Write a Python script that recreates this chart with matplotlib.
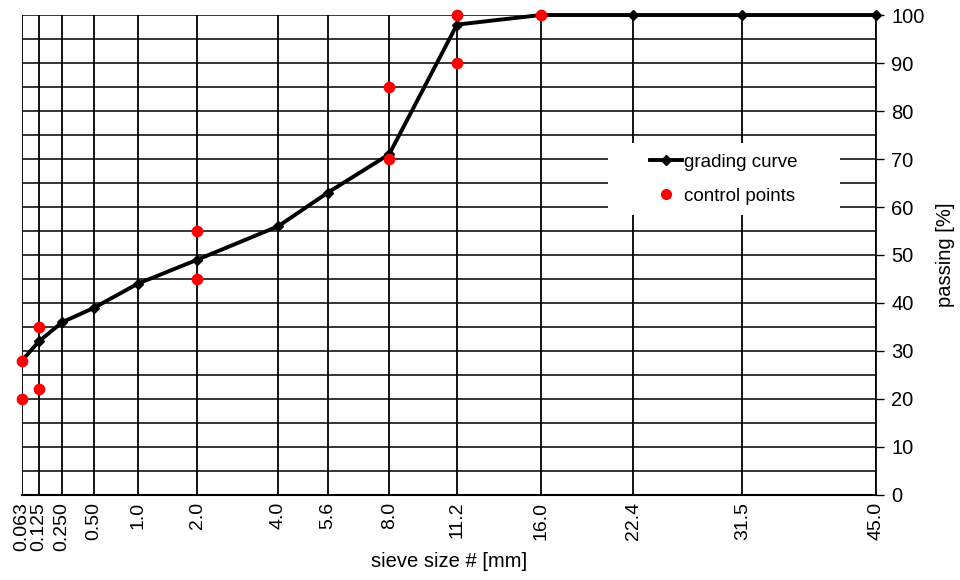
import numpy as np
import matplotlib
matplotlib.use("Agg")
import matplotlib.pyplot as plt
from matplotlib.lines import Line2D
from matplotlib.patches import Rectangle

plt.rcParams['font.family'] = ['Liberation Sans', 'DejaVu Sans']

sieve_sizes = [0.063, 0.125, 0.25, 0.5, 1.0, 2.0, 4.0, 5.6, 8.0, 11.2, 16.0, 22.4, 31.5, 45.0]
sieve_labels = ["0.063", "0.125", "0.250", "0.50", "1.0", "2.0", "4.0", "5.6", "8.0", "11.2", "16.0", "22.4", "31.5", "45.0"]
grading_passing = [28, 32, 36, 39, 44, 49, 56, 63, 71, 98, 100, 100, 100, 100]

control_x = [0.063, 0.063, 0.125, 0.125, 2.0, 2.0, 8.0, 8.0, 11.2, 11.2, 16.0]
control_y = [28, 20, 35, 22, 55, 45, 85, 70, 100, 90, 100]

y_ticks = list(range(0, 101, 10))
y_grid = list(range(0, 101, 5))

fig = plt.figure(figsize=(9.6, 5.8), dpi=100)
ax = fig.add_axes([0.0229, 0.1466, 0.8896, 0.8275])

p = 0.45
ax.set_xscale('function', functions=(lambda v: np.power(np.clip(v, 1e-9, None), p),
                                     lambda v: np.power(np.clip(v, 0, None), 1 / p)))
ax.set_xlim(0.063, 45.0)
ax.set_ylim(0, 100)

for s in sieve_sizes:
    ax.axvline(s, color='black', lw=1.3, zorder=1)
for g in y_grid:
    ax.axhline(g, color='black', lw=1.1, zorder=1)

ax.add_patch(Rectangle((0.686, 0.583), 0.272, 0.150, transform=ax.transAxes,
                       facecolor='white', edgecolor='none', zorder=2))

ax.plot(sieve_sizes, grading_passing, color='black', lw=2.8, marker='D', ms=5,
        zorder=3, clip_on=False, label='grading curve')
ax.scatter(control_x, control_y, color='red', s=55, zorder=4, clip_on=False,
           label='control points')

ax.set_xticks(sieve_sizes)
ax.set_xticklabels(sieve_labels, rotation=90, fontsize=14)
ax.xaxis.set_minor_locator(matplotlib.ticker.NullLocator())
ax.tick_params(axis='x', length=0, pad=5)

ax.yaxis.tick_right()
ax.yaxis.set_label_position('right')
ax.set_yticks(y_ticks)
ax.tick_params(axis='y', length=6, width=1, pad=5, labelsize=14.5)

for sp in ['top', 'left']:
    ax.spines[sp].set_visible(False)
ax.spines['right'].set_linewidth(1.3)
ax.spines['bottom'].set_linewidth(1.5)

ax.set_xlabel('sieve size # [mm]', fontsize=14.5, labelpad=1)
ax.set_ylabel('passing [%]', fontsize=14.5, labelpad=8)

handles = [Line2D([0], [0], color='black', lw=2.8, marker='D', ms=5),
           Line2D([0], [0], color='red', marker='o', ms=7, lw=0)]
leg = ax.legend(handles, ['grading curve', 'control points'], loc='center',
                bbox_to_anchor=(0.822, 0.658), frameon=False, fontsize=13.5,
                handlelength=1.7, handletextpad=0.1, labelspacing=0.9)
leg.set_zorder(5)

fig.savefig('out.png', dpi=100)
